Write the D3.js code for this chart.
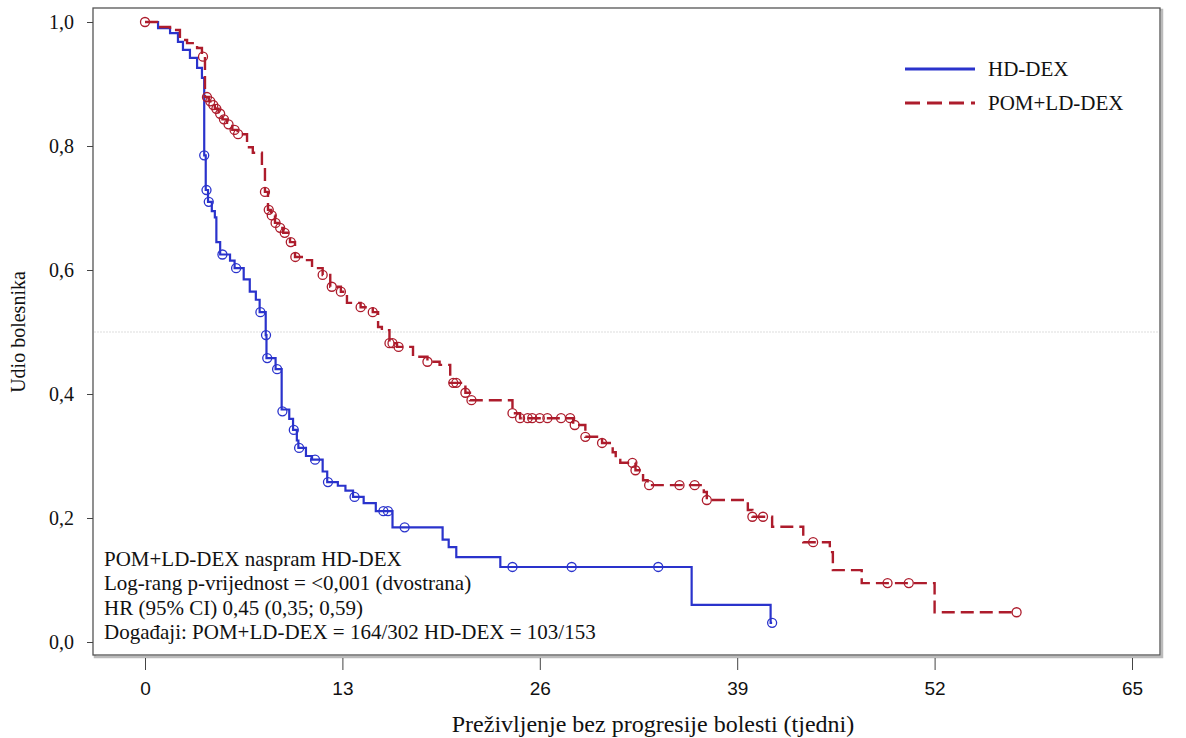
<!DOCTYPE html>
<html>
<head>
<meta charset="utf-8">
<script src="https://cdn.jsdelivr.net/npm/d3@7"></script>
<style>
  body { margin: 0; background: #fff; }
  svg text { font-family: "Liberation Serif", "Times New Roman", serif; fill: #111; }
  .xtick text { font-family: "Liberation Sans", Arial, sans-serif; }
</style>
</head>
<body>
<svg id="chart" width="1186" height="738"></svg>
<script>
// weeks / survival steps
const hdSteps = [
  [0, 1.0], [0.86, 0.99], [1.65, 0.982], [2.17, 0.968], [2.5, 0.955], [2.96, 0.942],
  [3.43, 0.926], [3.75, 0.91], [3.9, 0.785], [4.0, 0.729], [4.15, 0.71], [4.4, 0.695],
  [4.6, 0.685], [4.7, 0.645], [4.95, 0.625], [5.6, 0.615], [5.9, 0.603], [6.5, 0.585],
  [6.9, 0.565], [7.3, 0.552], [7.55, 0.532], [7.95, 0.495], [8.0, 0.458], [8.6, 0.44],
  [9.0, 0.375], [9.5, 0.36], [9.75, 0.342], [10.0, 0.325], [10.1, 0.313], [10.6, 0.30],
  [11.0, 0.294], [11.7, 0.275], [12.0, 0.258], [12.7, 0.252], [13.2, 0.244], [13.7, 0.234],
  [14.4, 0.224], [15.2, 0.211], [16.3, 0.185], [19.6, 0.165], [20.0, 0.153], [20.5, 0.137],
  [23.4, 0.121], [36.0, 0.06], [41.2, 0.031], [41.3, 0.031]
]
const hdCensored = [
  [3.9, 0.785], [4.05, 0.729], [4.2, 0.71], [5.1, 0.625], [6.0, 0.603], [7.6, 0.532],
  [7.97, 0.495], [8.05, 0.458], [8.7, 0.44], [9.05, 0.372], [9.8, 0.342], [10.15, 0.313],
  [11.2, 0.294], [12.05, 0.258], [13.8, 0.234], [15.7, 0.211], [16.0, 0.211], [17.1, 0.185],
  [24.2, 0.121], [28.1, 0.121], [33.8, 0.121], [41.3, 0.031]
]
const pomSteps = [
  [0, 1.0], [0.79, 0.992], [1.65, 0.987], [2.3, 0.971], [2.77, 0.966], [3.43, 0.958],
  [3.75, 0.944], [3.95, 0.879], [4.2, 0.872], [4.4, 0.866], [4.6, 0.86], [4.85, 0.852],
  [5.1, 0.843], [5.4, 0.835], [5.75, 0.826], [6.1, 0.819], [6.72, 0.798], [7.1, 0.789],
  [7.7, 0.766], [7.9, 0.726], [8.1, 0.697], [8.3, 0.688], [8.56, 0.676], [8.8, 0.668],
  [9.1, 0.66], [9.55, 0.645], [9.88, 0.621], [10.67, 0.616], [11.0, 0.603], [11.7, 0.592],
  [12.2, 0.573], [12.9, 0.565], [13.3, 0.547], [14.2, 0.54], [15.0, 0.532], [15.35, 0.508],
  [15.6, 0.503], [16.1, 0.482], [16.6, 0.476], [17.65, 0.46], [18.6, 0.452], [19.4, 0.447],
  [20.1, 0.418], [21.1, 0.402], [21.4, 0.39], [24.2, 0.369], [24.7, 0.361], [28.2, 0.35],
  [29.0, 0.331], [30.1, 0.321], [30.8, 0.306], [31.0, 0.297], [31.3, 0.289], [32.3, 0.277],
  [32.8, 0.261], [33.1, 0.253], [36.8, 0.242], [37.0, 0.229], [39.7, 0.213], [40.0, 0.202],
  [41.3, 0.186], [43.35, 0.161], [45.1, 0.145], [45.3, 0.116], [47.2, 0.095], [52.0, 0.048],
  [57.4, 0.048]
]
const pomCensored = [
  [0, 1.0], [3.82, 0.944], [4.08, 0.879], [4.3, 0.872], [4.5, 0.866], [4.7, 0.86],
  [4.95, 0.852], [5.2, 0.843], [5.5, 0.835], [5.9, 0.826], [6.13, 0.819], [7.9, 0.726],
  [8.15, 0.697], [8.35, 0.688], [8.6, 0.676], [8.9, 0.668], [9.2, 0.66], [9.6, 0.645],
  [9.9, 0.621], [11.7, 0.592], [12.3, 0.573], [12.9, 0.565], [14.2, 0.54], [15.0, 0.532],
  [16.1, 0.482], [16.3, 0.482], [16.7, 0.476], [18.6, 0.452], [20.3, 0.418], [20.5, 0.418],
  [21.1, 0.402], [21.5, 0.39], [24.2, 0.369], [24.7, 0.361], [25.2, 0.361], [25.5, 0.361],
  [26.0, 0.361], [26.5, 0.361], [27.4, 0.361], [28.0, 0.361], [28.3, 0.35], [29.0, 0.331],
  [30.1, 0.321], [32.1, 0.289], [32.3, 0.277], [33.2, 0.253], [35.2, 0.253], [36.2, 0.253],
  [37.0, 0.229], [40.0, 0.202], [40.7, 0.202], [44.0, 0.161], [48.9, 0.095], [50.3, 0.095],
  [57.4, 0.048]
]

const xTicks = [0, 13, 26, 39, 52, 65]
const yTicks = [0, 0.2, 0.4, 0.6, 0.8, 1.0]
const seriesNames = ['HD-DEX', 'POM+LD-DEX']
const statLines = [
  'POM+LD-DEX naspram HD-DEX',
  'Log-rang p-vrijednost = <0,001 (dvostrana)',
  'HR (95% CI) 0,45 (0,35; 0,59)',
  'Događaji: POM+LD-DEX = 164/302 HD-DEX = 103/153'
]

const blue = '#2a33cc'
const red = '#ad1c2c'

const svg = d3.select('#chart')
const frame = { left: 93, top: 8, right: 1160, bottom: 655 }

const x = d3.scaleLinear().domain([0, 65]).range([145, 1132])
const y = d3.scaleLinear().domain([0, 1]).range([642, 22])

// frame with a soft shadow on right/bottom
svg.append('rect')
  .attr('x', frame.left + 2).attr('y', frame.top + 2)
  .attr('width', frame.right - frame.left).attr('height', frame.bottom - frame.top)
  .attr('fill', 'none').attr('stroke', '#bbb').attr('stroke-width', 2.5)
svg.append('rect')
  .attr('x', frame.left).attr('y', frame.top)
  .attr('width', frame.right - frame.left).attr('height', frame.bottom - frame.top)
  .attr('fill', '#fff').attr('stroke', '#555').attr('stroke-width', 1.3)

svg.append('clipPath').attr('id', 'clip')
  .append('rect')
  .attr('x', frame.left).attr('y', frame.top)
  .attr('width', frame.right - frame.left).attr('height', frame.bottom - frame.top)

// median reference line
svg.append('line')
  .attr('x1', frame.left + 1).attr('x2', frame.right - 1)
  .attr('y1', y(0.5)).attr('y2', y(0.5))
  .attr('stroke', '#ddd').attr('stroke-width', 1).attr('stroke-dasharray', '2,1')

// y axis
const yAxis = svg.append('g')
  .attr('transform', `translate(${frame.left},0)`)
  .call(d3.axisLeft(y).tickValues(yTicks).tickSize(6).tickSizeOuter(0)
    .tickFormat(d => d3.format('.1f')(d).replace('.', ',')))
yAxis.select('.domain').remove()
yAxis.selectAll('line').attr('stroke', '#444')
yAxis.selectAll('text').attr('font-size', 20).attr('dx', -10)
  .style('font-family', '"Liberation Serif", serif')

// x axis below the frame
const xAxis = svg.append('g')
  .attr('class', 'xtick')
  .attr('transform', `translate(0,${frame.bottom + 3})`)
  .call(d3.axisBottom(x).tickValues(xTicks).tickSize(12).tickSizeOuter(0))
xAxis.select('.domain').remove()
xAxis.selectAll('line').attr('stroke', '#444')
xAxis.selectAll('text').attr('font-size', 19).attr('dy', '1.15em')
  .style('font-family', '"Liberation Sans", sans-serif')

// axis titles
svg.append('text')
  .attr('x', 653).attr('y', 732)
  .attr('text-anchor', 'middle').attr('font-size', 24)
  .text('Preživljenje bez progresije bolesti (tjedni)')
svg.append('text')
  .attr('transform', `translate(25,${y(0.5)}) rotate(-90)`)
  .attr('text-anchor', 'middle').attr('font-size', 20)
  .text('Udio bolesnika')

const plot = svg.append('g').attr('clip-path', 'url(#clip)')
const line = d3.line().x(d => x(d[0])).y(d => y(d[1])).curve(d3.curveStepAfter)

plot.append('path').datum(hdSteps)
  .attr('d', line).attr('fill', 'none')
  .attr('stroke', blue).attr('stroke-width', 2.2)
plot.append('path').datum(pomSteps)
  .attr('d', line).attr('fill', 'none')
  .attr('stroke', red).attr('stroke-width', 2.4)
  .attr('stroke-dasharray', '13,6')

function censorMarks(data, color) {
  plot.append('g').selectAll('circle')
    .data(data).enter().append('circle')
    .attr('cx', d => x(d[0])).attr('cy', d => y(d[1]))
    .attr('r', 4.5).attr('fill', 'none')
    .attr('stroke', color).attr('stroke-width', 1.3)
}
censorMarks(hdCensored, blue)
censorMarks(pomCensored, red)

// legend
const legend = svg.append('g').attr('transform', 'translate(905,69)')
seriesNames.forEach((name, i) => {
  const g = legend.append('g').attr('transform', `translate(0,${i * 34})`)
  g.append('line').attr('x1', 0).attr('x2', 70).attr('y1', 0).attr('y2', 0)
    .attr('stroke', i === 0 ? blue : red).attr('stroke-width', 3)
    .attr('stroke-dasharray', i === 0 ? null : '15,7')
  g.append('text').attr('x', 83).attr('y', 7).attr('font-size', 21).text(name)
})

// statistics box
svg.append('g').selectAll('text')
  .data(statLines).enter().append('text')
  .attr('x', 104).attr('y', (d, i) => 566 + i * 24.3)
  .attr('font-size', 21)
  .text(d => d)
</script>
</body>
</html>
